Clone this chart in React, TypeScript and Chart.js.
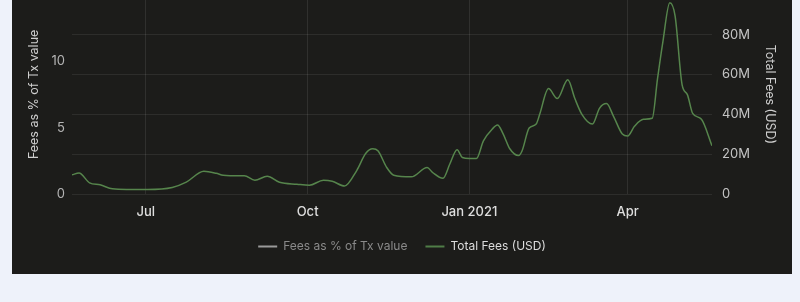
import React, { useEffect, useRef } from 'react';
import { Chart, registerables } from 'chart.js';

Chart.register(...registerables);

// x values: days since 2020-05-20
const START_DATE = '2020-05-20';
const dayIndex = [
  0, 4, 10, 16, 23, 31, 43, 57, 65, 75, 82, 86, 90, 98, 104, 111, 118, 128, 135, 143,
  148, 155, 162, 167, 171, 174, 179, 183, 193, 202, 205, 211, 215, 219, 222, 226, 230, 234, 239, 242,
  245, 249, 254, 256, 260, 264, 266, 271, 276, 282, 286, 290, 296, 300, 304, 308, 313, 316, 320, 325,
  330, 333, 336, 340, 343, 347, 350, 353, 358, 364,
];
// Total fees, millions of USD
const totalFeesMillionUSD = [
  9.6, 10.5, 5.6, 4.6, 2.6, 2.3, 2.3, 3.3, 6.0, 11.4, 10.4, 9.4, 9.2, 9.2, 6.9, 8.9, 5.9, 4.9, 4.4, 6.9,
  6.4, 4.0, 11.9, 20.3, 22.7, 21.7, 13.3, 9.4, 8.6, 13.3, 10.9, 7.9, 15.3, 22.2, 18.3, 17.8, 17.8, 26.7, 32.6, 34.6,
  30.6, 22.7, 19.3, 21.7, 33.1, 35.1, 40, 52.9, 47.9, 57.3, 47.9, 40, 35.1, 43, 45.4, 39, 30.1, 29.1, 34.1, 37.5,
  38, 57.8, 76, 96, 89.4, 54.8, 49.9, 40.5, 37.5, 24.2,
];
// Hidden series (toggled off in the legend)
const feesPctOfTxValue: number[] = [];

const monthTickDays = [42, 134, 226, 316];
const monthTickLabels = ['Jul', 'Oct', 'Jan 2021', 'Apr'];
const seriesNames = ['Fees as % of Tx value', 'Total Fees (USD)'];

export default function App() {
  const ref = useRef<HTMLCanvasElement>(null);

  useEffect(() => {
    if (!ref.current) return;
    Chart.defaults.font.family = 'Inter, "Noto Sans", sans-serif';
    const chart = new Chart(ref.current, {
      type: 'line',
      data: {
        datasets: [
          {
            label: seriesNames[0],
            data: feesPctOfTxValue.map((v, i) => ({ x: dayIndex[i], y: v })),
            yAxisID: 'y',
            borderColor: '#9a9a9a',
            backgroundColor: '#9a9a9a',
            hidden: true,
            pointRadius: 0,
          },
          {
            label: seriesNames[1],
            data: totalFeesMillionUSD.map((v, i) => ({ x: dayIndex[i], y: v })),
            yAxisID: 'y1',
            borderColor: '#56854c',
            backgroundColor: '#56854c',
            borderWidth: 1.5,
            pointRadius: 0,
            cubicInterpolationMode: 'monotone',
          },
        ],
      },
      options: {
        animation: false,
        responsive: false,
        layout: { padding: { top: 6, bottom: 11.5, left: 0, right: 0 } },
        plugins: {
          tooltip: { enabled: false },
          legend: {
            position: 'bottom',
            labels: {
              usePointStyle: true,
              pointStyle: 'line',
              pointStyleWidth: 19,
              padding: 18,
              font: { size: 12 },
              generateLabels: (c: any) =>
                c.data.datasets.map((ds: any, i: number) => ({
                  text: ds.label,
                  fillStyle: i === 0 ? '#9a9a9a' : '#4f7d47',
                  strokeStyle: i === 0 ? '#9a9a9a' : '#4f7d47',
                  lineWidth: 2,
                  pointStyle: 'line',
                  hidden: false,
                  fontColor: i === 0 ? '#8a8a8a' : '#dcdcdc',
                  datasetIndex: i,
                })),
            },
          },
        },
        scales: {
          x: {
            type: 'linear',
            min: 0,
            max: 364,
            border: { display: false },
            grid: { color: 'rgba(255,255,255,0.09)', drawTicks: false },
            afterBuildTicks: (s: any) => {
              s.ticks = monthTickDays.map((v) => ({ value: v }));
            },
            afterFit: (s: any) => {
              s.height = 28.5;
            },
            ticks: {
              padding: 10.5,
              color: '#dedede',
              font: { size: 13, weight: '500' },
              callback: (v: any) => {
                const k = monthTickDays.indexOf(Number(v));
                return k >= 0 ? monthTickLabels[k] : '';
              },
            },
          },
          y: {
            position: 'left',
            display: true,
            min: 0,
            max: 15,
            border: { display: false },
            grid: { display: false, drawTicks: false },
            afterFit: (s: any) => {
              s.width = 60;
            },
            ticks: { stepSize: 5, padding: 7, color: '#b4b4b4', font: { size: 13 } },
            title: {
              display: true,
              text: seriesNames[0],
              color: '#cfcfcf',
              font: { size: 12.5 },
              padding: { top: 15, bottom: 0 },
            },
          },
          y1: {
            position: 'right',
            min: 0,
            max: 100,
            border: { display: false },
            grid: { color: 'rgba(255,255,255,0.08)', drawTicks: false },
            afterFit: (s: any) => {
              s.width = 80;
            },
            ticks: {
              stepSize: 20,
              padding: 10,
              color: '#c4c4c4',
              font: { size: 13 },
              callback: (v: any) => (Number(v) === 0 ? '0' : v + 'M'),
            },
            title: {
              display: true,
              text: seriesNames[1],
              color: '#cfcfcf',
              font: { size: 12.5 },
              padding: { top: 15, bottom: 0 },
            },
          },
        },
      },
    } as any);
    return () => chart.destroy();
  }, []);

  return (
    <div
      data-start={START_DATE}
      style={{
        position: 'fixed',
        left: 0,
        top: 0,
        width: 800,
        height: 302,
        background: '#eef2fa',
        overflow: 'hidden',
      }}
    >
      <div
        style={{
          position: 'absolute',
          left: 12,
          top: -23,
          width: 780,
          height: 297,
          background: '#1c1c1a',
        }}
      >
        <canvas ref={ref} width={780} height={297} style={{ display: 'block' }} />
      </div>
    </div>
  );
}
